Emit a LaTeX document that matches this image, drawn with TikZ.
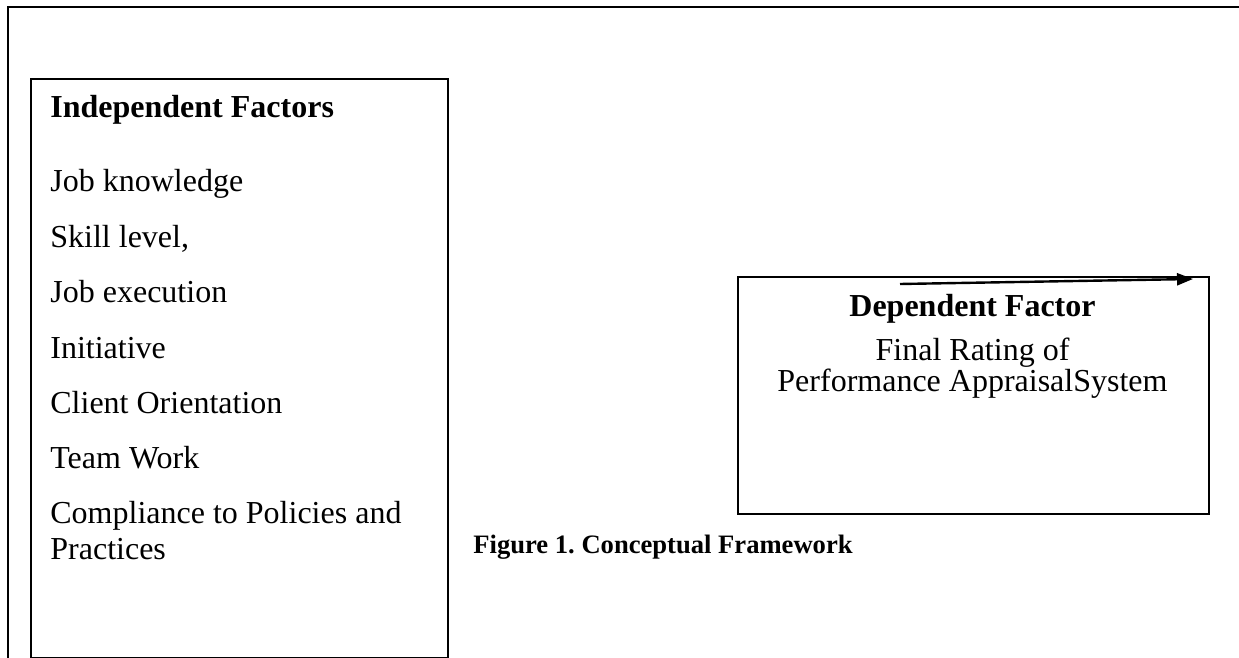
\documentclass[tikz,border=0pt]{standalone}
\usepackage{fontspec}
\setmainfont{Liberation Serif}
\usetikzlibrary{arrows.meta}
\frenchspacing
\begin{document}
\begin{tikzpicture}[x=0.5pt,y=-0.5pt,
  frameline/.style={line width=1.2pt},
  boxline/.style={draw,line width=0.9pt,inner sep=0pt,anchor=north west},
  txt/.style={inner sep=0pt,anchor=base west,font=\fontsize{16pt}{18.4pt}\selectfont},
  ctxt/.style={inner sep=0pt,anchor=base,font=\fontsize{16pt}{18.4pt}\selectfont},
  btxt/.style={inner sep=0pt,anchor=base west,font=\fontsize{16pt}{18.4pt}\selectfont\bfseries},
  captxt/.style={inner sep=0pt,anchor=base west,font=\fontsize{13.3pt}{15.3pt}\selectfont\bfseries}]
\useasboundingbox (0,0) rectangle (1239,658);
% outer frame (cropped: top and left edges)
\draw[frameline] (8,660) -- (8,7) -- (1245,7);
% boxes
\node[boxline,minimum width=208.5pt,minimum height=289.5pt] (indep) at (30,78) {};
\node[boxline,minimum width=235.5pt,minimum height=118.5pt,line width=1pt] (dep) at (737,276) {};
% independent factors text
\node[btxt] (ihead) at (50,118) {Independent Factors};
\node[txt] (i1) at (50,192) {Job knowledge};
\node[txt] (i2) at (50,248) {Skill level,};
\node[txt] (i3) at (50,303) {Job execution};
\node[txt] (i4) at (50,358) {Initiative};
\node[txt] (i5) at (50,413) {Client Orientation};
\node[txt] (i6) at (50,468) {Team Work};
\node[txt] (i7a) at (50,523) {Compliance to Policies and};
\node[txt] (i7b) at (50,559) {Practices};
% dependent factor text
\node[ctxt,font=\fontsize{16pt}{18.4pt}\selectfont\bfseries] (dhead) at (972.5,316) {Dependent Factor};
\node[ctxt] (d1) at (972.5,360) {Final Rating of};
\node[ctxt] (d2) at (972.5,392) {Performance AppraisalSystem};
% caption
\node[captxt] (cap) at (473,553) {Figure 1. Conceptual Framework};
% arrow
\coordinate (as) at (900,284);
\coordinate (ae) at (1193,279);
\draw[line width=1.2pt,-{Triangle[length=8pt,width=6pt]}] (as) -- (ae);
\end{tikzpicture}
\end{document}
